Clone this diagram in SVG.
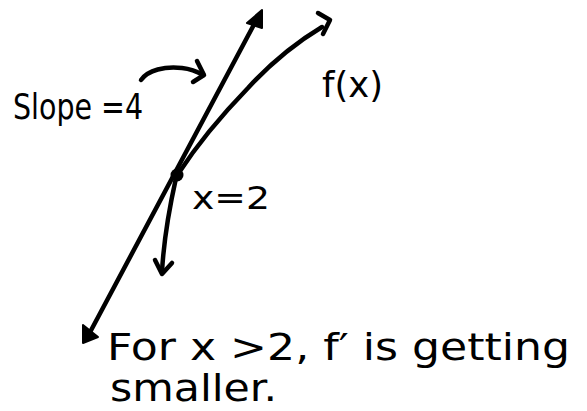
<svg xmlns="http://www.w3.org/2000/svg" width="587" height="411" viewBox="0 0 587 411">
<style>
.ln{fill:none;stroke:#000;stroke-width:4.5;stroke-linecap:round;stroke-linejoin:round}
.ah{fill:#000;stroke:#000;stroke-width:2;stroke-linejoin:round}
.tx{font-family:"DejaVu Sans","Liberation Sans",sans-serif;fill:#000}
</style>
<rect width="587" height="411" fill="#fff"/>
<g id="connectors">
<path class="ln" d="M88,336 L258,17"/>
<polygon class="ah" points="262,10 247,23 262,28"/>
<polygon class="ah" points="83,343 83,325 98,337"/>
<path class="ln" d="M178,174 C195,148 215,122 248,88 C270,64 292,45 322,27"/>
<path class="ln" d="M318,13 L330,20 L323,34"/>
<path class="ln" d="M176,178 C170,205 164,235 162,272"/>
<path class="ln" d="M155,260 L162,274 L172,263"/>
<path class="ln" d="M141,80 C148,70 165,66 182,68 C192,69 198,72 203,75"/>
<path class="ln" d="M197,61 L204,75 L193,82"/>
</g>
<g id="point"><circle cx="177" cy="175" r="6.5" fill="#000"/></g>
<g id="slope"><text class="tx" x="13" y="119" font-size="36" textLength="130" lengthAdjust="spacingAndGlyphs">Slope =4</text></g>
<g id="fx"><text class="tx" x="322" y="97" font-size="36" textLength="61" lengthAdjust="spacingAndGlyphs">f(x)</text></g>
<g id="x2"><text class="tx" x="192" y="209" font-size="32" textLength="78" lengthAdjust="spacingAndGlyphs">x=2</text></g>
<g id="note">
<text class="tx" x="107" y="360" font-size="38" textLength="463" lengthAdjust="spacingAndGlyphs">For x &gt;2, f′ is getting</text>
<text class="tx" x="110" y="401" font-size="38" textLength="167" lengthAdjust="spacingAndGlyphs">smaller.</text>
</g>
</svg>
